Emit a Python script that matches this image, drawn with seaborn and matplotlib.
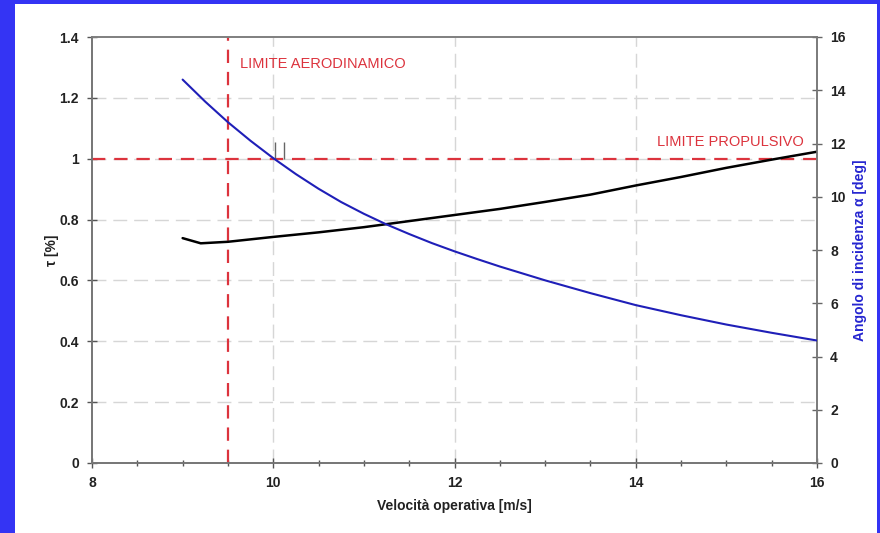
import matplotlib
matplotlib.use("Agg")
import matplotlib.pyplot as plt
from matplotlib.patches import Rectangle
from matplotlib.ticker import MultipleLocator
import pandas as pd
import seaborn as sns

# Operating speed [m/s]
velocity = [9.0, 9.2, 9.5, 10.0, 10.5, 11.0, 11.5, 12.0, 12.5, 13.0,
            13.5, 14.0, 14.5, 15.0, 15.5, 16.0]
# Thrust ratio tau [%] (left axis)
tau = [0.739, 0.722, 0.727, 0.743, 0.758, 0.775, 0.795, 0.815, 0.835, 0.858,
       0.882, 0.912, 0.940, 0.970, 0.997, 1.023]

# Angle of attack alpha [deg] (right axis), sampled more densely
alpha_velocity = [9.0, 9.25, 9.5, 9.75, 10.0, 10.25, 10.5, 10.75, 11.0, 11.25,
                  11.5, 11.75, 12.0, 12.25, 12.5, 13.0, 13.5, 14.0, 14.5,
                  15.0, 15.5, 16.0]
alpha = [14.40, 13.57, 12.80, 12.10, 11.45, 10.85, 10.30, 9.80, 9.36, 8.96,
         8.60, 8.26, 7.95, 7.66, 7.38, 6.86, 6.38, 5.93, 5.55, 5.20, 4.89, 4.60]

aero_limit_speed = 9.5
prop_limit_tau = 1.0
marker_speeds = [10.02, 10.12]
marker_tau = [1.0, 1.055]

x_ticks = [8, 10, 12, 14, 16]
tau_ticks = [0, 0.2, 0.4, 0.6, 0.8, 1, 1.2, 1.4]
tau_tick_labels = ["0", "0.2", "0.4", "0.6", "0.8", "1", "1.2", "1.4"]
alpha_ticks = [0, 2, 4, 6, 8, 10, 12, 14, 16]

df_tau = pd.DataFrame({"velocity": velocity, "tau": tau})
df_alpha = pd.DataFrame({"velocity": alpha_velocity, "alpha": alpha})

sns.set_theme(style="white")
plt.rcParams["font.family"] = ["Liberation Sans", "DejaVu Sans"]
plt.rcParams["font.weight"] = "bold"

fig = plt.figure(figsize=(8.8, 5.33), dpi=100)
fig.patch.set_facecolor("#3434f4")
fig.patches.append(Rectangle((15 / 880, 0), (877 - 15) / 880, 1 - 4 / 533,
                             transform=fig.transFigure, facecolor="white",
                             edgecolor="none", zorder=-10))

ax = fig.add_axes([92 / 880, 1 - 463 / 533, (817 - 92) / 880, (463 - 37) / 533])
ax.set_facecolor("white")
ax2 = ax.twinx()

red = "#dc333d"
grid_col = "#d6d6d6"

# grid
for xv in x_ticks[1:-1]:
    ax.axvline(xv, color=grid_col, lw=1.0, dashes=(10, 5), zorder=0)
for yv in tau_ticks[1:-1]:
    ax.axhline(yv, color=grid_col, lw=1.0, dashes=(10, 5), zorder=0)

# limit lines
ax.axvline(aero_limit_speed, color=red, lw=1.6, dashes=(6, 4), zorder=2)
ax.axhline(prop_limit_tau, color=red, lw=1.6, dashes=(6, 4), zorder=2)
ax.vlines(marker_speeds, marker_tau[0], marker_tau[1], color="#666666", lw=1.0, zorder=2)

sns.lineplot(data=df_tau, x="velocity", y="tau", ax=ax, color="black", lw=1.8, zorder=3)
sns.lineplot(data=df_alpha, x="velocity", y="alpha", ax=ax2, color="#1f1fb8", lw=1.5, zorder=3)

ax.text(9.63, 1.311, "LIMITE AERODINAMICO", color=red, fontsize=10.5,
        fontweight="medium", va="center", ha="left")
ax.text(15.85, 1.055, "LIMITE PROPULSIVO", color=red, fontsize=10.5,
        fontweight="medium", va="center", ha="right")

ax.set_xlim(8, 16)
ax.set_ylim(0, 1.4)
ax2.set_ylim(0, 16)
ax.set_xticks(x_ticks)
ax.xaxis.set_minor_locator(MultipleLocator(0.5))
ax.set_yticks(tau_ticks)
ax.set_yticklabels(tau_tick_labels)
ax2.set_yticks(alpha_ticks)

for a in (ax, ax2):
    for s in a.spines.values():
        s.set_color("#7a7a7a")
        s.set_linewidth(1.2)
ax.spines["left"].set_color("#555555")
ax.spines["bottom"].set_color("#555555")
ax.spines["top"].set_color("#9a9a9a")

ax.tick_params(axis="x", which="both", direction="inout", length=7, width=1,
               color="#555555", labelsize=10, pad=6, bottom=True)
ax.tick_params(axis="x", which="minor", length=5)
ax.tick_params(axis="y", direction="inout", length=7, width=1, color="#555555",
               labelsize=10, pad=6, left=True)
ax2.tick_params(axis="y", direction="inout", length=7, width=1, color="#666666",
                labelsize=10, pad=6, right=True)
for lbl in ax.get_xticklabels() + ax.get_yticklabels() + ax2.get_yticklabels():
    lbl.set_fontweight("bold")
    lbl.set_color("#222222")

ax.set_xlabel("Velocità operativa [m/s]", fontsize=10, fontweight="bold",
              color="#222222", labelpad=6)
ax.set_ylabel("τ [%]", fontsize=10, fontweight="bold", color="#222222", labelpad=0)
ax2.set_ylabel("Angolo di incidenza α [deg]", fontsize=10, fontweight="bold",
               color="#2525d0", labelpad=5)

fig.savefig("out.png", dpi=100, facecolor=fig.get_facecolor())
